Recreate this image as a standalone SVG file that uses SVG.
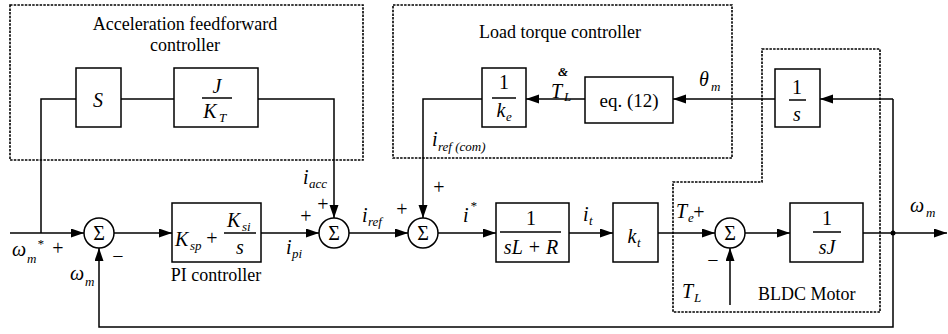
<svg xmlns="http://www.w3.org/2000/svg" width="948" height="334" viewBox="0 0 948 334" font-family="'Liberation Serif', 'DejaVu Serif', serif">
<style>
.w{stroke:#000;stroke-width:1.5;fill:none}
.b{stroke:#000;stroke-width:1.5;fill:#fff}
.d{stroke:#000;stroke-width:1.6;fill:none;stroke-dasharray:2.5 1.2}
text{font-family:'Liberation Serif','DejaVu Serif',serif;fill:#000}
.t{font-size:18px}
.m{font-size:20px;font-style:italic}
.s{font-size:13px;font-style:italic}
.n{font-size:20px}
.p{font-size:19px}
</style>
<defs>
<marker id="ar" markerUnits="userSpaceOnUse" markerWidth="14" markerHeight="10" refX="13" refY="4.5" orient="auto">
<path d="M0,0 L13,4.5 L0,9 z" fill="#000"/>
</marker>
</defs>
<rect width="948" height="334" fill="#fff"/>

<g id="frames">
<rect class="d" x="10" y="5" width="353" height="155"/>
<rect class="d" x="393" y="5" width="339" height="153"/>
<path class="d" d="M762,49 L880,49 L880,312 L673,312 L673,182 L762,182 Z"/>
<text class="t" x="185" y="30" text-anchor="middle">Acceleration feedforward</text>
<text class="t" x="185" y="51" text-anchor="middle">controller</text>
<text class="t" x="560" y="38" text-anchor="middle">Load torque controller</text>
<text class="t" x="758" y="300">BLDC Motor</text>
<text class="t" x="216" y="281" text-anchor="middle">PI controller</text>
</g>

<g id="connectors">
<path class="w" d="M41,233 L41,99 L76,99"/>
<path class="w" d="M121,99 L174,99"/>
<path class="w" d="M258,99 L334,99 L334,218" marker-end="url(#ar)"/>
<path class="w" d="M893,99 L820,99" marker-end="url(#ar)"/>
<path class="w" d="M775,99 L673,99" marker-end="url(#ar)"/>
<path class="w" d="M585,99 L526,99" marker-end="url(#ar)"/>
<path class="w" d="M482,99 L423,99 L423,218" marker-end="url(#ar)"/>
<path class="w" d="M10,233 L84,233" marker-end="url(#ar)"/>
<path class="w" d="M114,233 L172,233" marker-end="url(#ar)"/>
<path class="w" d="M261,233 L319,233" marker-end="url(#ar)"/>
<path class="w" d="M349,233 L408,233" marker-end="url(#ar)"/>
<path class="w" d="M438,233 L496,233" marker-end="url(#ar)"/>
<path class="w" d="M569,233 L613,233" marker-end="url(#ar)"/>
<path class="w" d="M658,233 L715,233" marker-end="url(#ar)"/>
<path class="w" d="M745,233 L790,233" marker-end="url(#ar)"/>
<path class="w" d="M863,233 L947,233" marker-end="url(#ar)"/>
<path class="w" d="M893,99 L893,327 L99,327 L99,248" marker-end="url(#ar)"/>
<path class="w" d="M730,305 L730,248" marker-end="url(#ar)"/>
<circle cx="893" cy="233" r="2.5" fill="#000"/>
</g>

<g id="s-block">
<rect class="b" x="76" y="68" width="45" height="59"/>
<text class="m" x="98" y="107" text-anchor="middle">S</text>
</g>

<g id="j-kt">
<rect class="b" x="174" y="68" width="84" height="59"/>
<text class="m" x="217" y="93" text-anchor="middle">J</text>
<path class="w" d="M202,98 L232,98"/>
<text class="m" x="210" y="118" text-anchor="middle">K</text>
<text class="s" x="219" y="122">T</text>
</g>

<g id="inv-ke">
<rect class="b" x="482" y="68" width="44" height="59"/>
<text class="n" x="504" y="89" text-anchor="middle">1</text>
<path class="w" d="M492,98 L516,98"/>
<text class="m" x="501" y="117" text-anchor="middle">k</text>
<text class="s" x="506" y="121">e</text>
</g>

<g id="eq12">
<rect class="b" x="585" y="77" width="88" height="46"/>
<text class="p" x="629" y="107" text-anchor="middle">eq. (12)</text>
</g>

<g id="inv-s">
<rect class="b" x="775" y="69" width="45" height="58"/>
<text class="n" x="797" y="94" text-anchor="middle">1</text>
<path class="w" d="M789,100 L806,100"/>
<text class="m" x="797" y="121" text-anchor="middle">s</text>
</g>

<g id="pi">
<rect class="b" x="172" y="203" width="89" height="59"/>
<text class="m" x="175" y="246">K</text>
<text class="s" x="190" y="250">sp</text>
<text class="n" x="212" y="245" text-anchor="middle">+</text>
<text class="m" x="227" y="227">K</text>
<text class="s" x="242" y="231">si</text>
<path class="w" d="M224,233 L256,233"/>
<text class="m" x="240" y="254" text-anchor="middle">s</text>
</g>

<g id="elec">
<rect class="b" x="496" y="203" width="73" height="59"/>
<text class="n" x="531" y="225" text-anchor="middle">1</text>
<path class="w" d="M500,232 L561,232"/>
<text class="m" x="531" y="254" text-anchor="middle">sL + R</text>
</g>

<g id="kt">
<rect class="b" x="613" y="203" width="45" height="59"/>
<text class="m" x="632" y="243" text-anchor="middle">k</text>
<text class="s" x="637" y="247">t</text>
</g>

<g id="inv-sj">
<rect class="b" x="790" y="203" width="73" height="59"/>
<text class="n" x="827" y="225" text-anchor="middle">1</text>
<path class="w" d="M813,232 L841,232"/>
<text class="m" x="827" y="254" text-anchor="middle">sJ</text>
</g>

<g id="sum1">
<circle class="b" cx="99" cy="233" r="15"/>
<text class="n" x="99" y="240" text-anchor="middle">Σ</text>
</g>
<g id="sum2">
<circle class="b" cx="334" cy="233" r="15"/>
<text class="n" x="334" y="240" text-anchor="middle">Σ</text>
</g>
<g id="sum3">
<circle class="b" cx="423" cy="233" r="15"/>
<text class="n" x="423" y="240" text-anchor="middle">Σ</text>
</g>
<g id="sum4">
<circle class="b" cx="730" cy="233" r="15"/>
<text class="n" x="730" y="240" text-anchor="middle">Σ</text>
</g>

<g id="labels">
<text class="m" x="12" y="256">ω</text>
<text class="s" x="27" y="263">m</text>
<text class="s" x="37" y="248">*</text>
<text class="n" x="58" y="255" text-anchor="middle">+</text>
<text class="n" x="118" y="263" text-anchor="middle">−</text>
<text class="m" x="70" y="280">ω</text>
<text class="s" x="85" y="286">m</text>
<text class="m" x="286" y="254">i</text>
<text class="s" x="292" y="258">pi</text>
<text class="n" x="306" y="223" text-anchor="middle">+</text>
<text class="m" x="303" y="184">i</text>
<text class="s" x="309" y="188">acc</text>
<text class="n" x="323" y="211" text-anchor="middle">+</text>
<text class="m" x="362" y="222">i</text>
<text class="s" x="368" y="226">ref</text>
<text class="n" x="402" y="216" text-anchor="middle">+</text>
<text class="n" x="439" y="194" text-anchor="middle">+</text>
<text class="m" x="432" y="146">i</text>
<text class="s" x="438" y="151">ref (com)</text>
<text class="m" x="463" y="222">i</text>
<text class="s" x="470" y="210">*</text>
<text class="m" x="583" y="221">i</text>
<text class="s" x="589" y="225">t</text>
<text class="m" x="551" y="98">T</text>
<text class="s" x="564" y="101">L</text>
<text class="s" x="558" y="76" font-style="normal" font-weight="bold">&amp;</text>
<text class="m" x="699" y="86">θ</text>
<text class="s" x="711" y="91">m</text>
<text class="m" x="676" y="218">T</text>
<text class="s" x="688" y="222">e</text>
<text class="n" x="699" y="219" text-anchor="middle">+</text>
<text class="n" x="713" y="267" text-anchor="middle">−</text>
<text class="m" x="682" y="298">T</text>
<text class="s" x="694" y="302">L</text>
<text class="m" x="910" y="212">ω</text>
<text class="s" x="926" y="217">m</text>
</g>
</svg>
